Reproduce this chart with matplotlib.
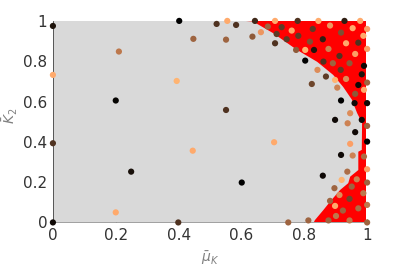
import numpy as np
import matplotlib
matplotlib.use("Agg")
import matplotlib.pyplot as plt

# edge of the grey (stable) region
edge_x = [0.61, 0.637, 0.70, 0.777, 0.841, 0.892, 0.924, 0.952, 0.968, 0.984, 0.983,
          0.972, 0.972, 0.946, 0.94, 0.914, 0.882, 0.861, 0.834, 0.83]
edge_y = [1.0, 0.997, 0.94, 0.856, 0.797, 0.732, 0.672, 0.608, 0.543, 0.494, 0.36,
          0.351, 0.26, 0.227, 0.195, 0.161, 0.103, 0.062, 0.012, 0.0]
red_right = 0.996

# sample points: mu_K, K2, colour value
mu = [0.0, 0.0, 0.0, 0.0, 0.402, 0.521, 0.447, 0.21, 0.394, 0.2,
      0.555, 0.583, 0.551, 0.551, 0.445, 0.704, 0.249, 0.601, 0.399, 0.749,
      0.813, 0.2,
      0.898, 0.938, 0.983, 1.0, 0.962, 1.0, 0.946, 0.917, 0.954, 0.99,
      0.859, 0.937, 1.0, 0.919, 0.967, 1.0, 0.896, 0.951, 0.988, 0.912,
      0.882, 0.944, 1.0, 0.898, 0.923, 0.972, 0.901, 0.877, 0.944, 1.0,
      0.643, 0.707, 0.779, 0.845, 0.928, 0.978, 0.684, 0.728, 0.662, 0.760,
      0.827, 0.882, 0.954, 1.0, 0.635, 0.712, 0.781, 0.917, 0.988, 0.707,
      0.744, 0.818, 0.859, 0.933, 0.972, 1.0, 0.774, 0.803, 0.831, 0.877,
      0.912, 0.962, 0.803, 0.861, 0.891, 0.944, 0.990, 0.842, 0.916, 0.983,
      0.869, 0.898, 0.933, 1.0, 0.824, 0.972, 0.905, 0.990, 0.962, 0.917,
      0.96, 1.0, 0.946]
k2 = [0.975, 0.732, 0.393, 0.0, 1.0, 0.985, 0.911, 0.848, 0.702, 0.605,
      1.0, 0.98, 0.907, 0.558, 0.356, 0.398, 0.252, 0.198, 0.0, 0.0,
      0.01, 0.05,
      0.509, 0.492, 0.509, 0.479, 0.448, 0.401, 0.39, 0.335, 0.332, 0.327,
      0.232, 0.252, 0.264, 0.211, 0.214, 0.198, 0.17, 0.178, 0.145, 0.136,
      0.107, 0.117, 0.087, 0.082, 0.059, 0.07, 0.032, 0.01, 0.01, 0.0,
      1.0, 1.0, 1.0, 1.0, 1.0, 1.0, 0.972, 0.969, 0.944, 0.952,
      0.96, 0.977, 0.964, 0.96, 0.922, 0.935, 0.926, 0.942, 0.926, 0.889,
      0.909, 0.897, 0.909, 0.889, 0.892, 0.861, 0.856, 0.856, 0.856, 0.861,
      0.826, 0.836, 0.803, 0.798, 0.79, 0.79, 0.777, 0.757, 0.757, 0.735,
      0.724, 0.707, 0.712, 0.694, 0.687, 0.682, 0.669, 0.658, 0.638, 0.605,
      0.592, 0.592, 0.542]
cval = [0.1, 0.85, 0.25, 0.05, 0.0, 0.25, 0.5, 0.6, 0.9, 0.02,
        0.85, 0.25, 0.5, 0.25, 0.85, 0.85, 0.08, 0.0, 0.25, 0.5,
        0.5, 0.85,
        0.05, 0.65, 0.05, 0.5, 0.05, 0.0, 0.8, 0.05, 0.65, 0.55,
        0.05, 0.55, 0.8, 0.9, 0.65, 0.5, 0.5, 0.5, 0.6, 0.7,
        0.5, 0.35, 0.6, 0.85, 0.5, 0.55, 0.6, 0.5, 0.6, 0.5,
        0.2, 0.85, 0.25, 0.85, 0.15, 0.85, 0.5, 0.3, 0.75, 0.85,
        0.3, 0.75, 0.85, 0.8, 0.45, 0.3, 0.3, 0.4, 0.85, 0.25,
        0.3, 0.4, 0.15, 0.85, 0.25, 0.8, 0.45, 0.9, 0.1, 0.65,
        0.25, 0.8, 0.0, 0.25, 0.5, 0.45, 0.05, 0.7, 0.3, 0.1,
        0.3, 0.9, 0.7, 0.5, 0.35, 0.05, 0.65, 0.85, 0.45, 0.0,
        0.05, 0.05, 0.7]

xticks = [0, 0.2, 0.4, 0.6, 0.8, 1]
xticklabels = ["0", "0.2", "0.4", "0.6", "0.8", "1"]
yticks = [0, 0.2, 0.4, 0.6, 0.8, 1]
yticklabels = ["0", "0.2", "0.4", "0.6", "0.8", "1"]

fig = plt.figure(figsize=(4.07, 2.68), dpi=100)
ax = fig.add_axes([0.130, 0.170, 0.772, 0.752])

# red background, grey stable region on top
ax.fill([0, red_right, red_right, 0], [0, 0, 1, 1], color="#ff0000", lw=0, zorder=1)
gx = [0, 0] + edge_x
gy = [0, 1] + edge_y
ax.fill(gx, gy, color="#d9d9d9", lw=0, zorder=2)

ax.scatter(mu, k2, c=cval, cmap="copper", vmin=0, vmax=1, s=20,
           linewidths=0, zorder=3, clip_on=False)

ax.set_xlim(0, 1)
ax.set_ylim(0, 1)
ax.set_xticks(xticks)
ax.set_xticklabels(xticklabels)
ax.set_yticks(yticks)
ax.set_yticklabels(yticklabels)
ax.tick_params(direction="in", length=2.5, width=0.5, labelsize=11,
               colors="#333333", pad=4)
for s in ["top", "right"]:
    ax.spines[s].set_visible(False)
ax.spines["left"].set_color("#404040")
ax.spines["bottom"].set_color("#909090")
ax.spines["left"].set_linewidth(0.6)
ax.spines["bottom"].set_linewidth(0.6)

ax.set_xlabel(r"$\bar{\mu}_K$", fontsize=10, color="#808080")
ax.set_ylabel(r"$\bar{K}_2$", fontsize=10, color="#808080")
ax.xaxis.set_label_coords(0.5, -0.135)
ax.yaxis.set_label_coords(-0.105, 0.53)

fig.savefig("out.png", dpi=100)
